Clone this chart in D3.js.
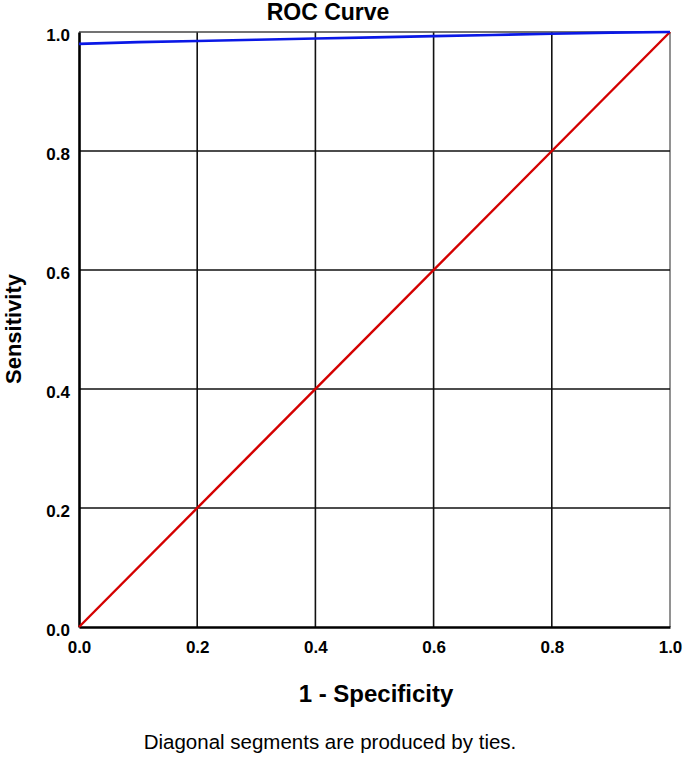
<!DOCTYPE html>
<html>
<head>
<meta charset="utf-8">
<script src="https://cdn.jsdelivr.net/npm/d3@7"></script>
<style>
    body { margin: 0; background: #fff; }
    .tick text { font-family: "Liberation Sans", Arial, sans-serif; font-weight: bold; font-size: 17px; fill: #000; }
</style>
</head>
<body>
<div id="chart"></div>
<script>
// ROC curve (blue)
var fpr = [0, 0.1, 0.2, 0.3, 0.4, 0.5, 0.6, 0.7, 0.8, 0.9, 1.0]
var tpr = [0.980, 0.983, 0.985, 0.987, 0.989, 0.991, 0.993, 0.995, 0.997, 0.999, 1.0]

// reference line
var refX = [0, 1]
var refY = [0, 1]

var ticks = [0, 0.2, 0.4, 0.6, 0.8, 1.0]

var margin = {top: 32, right: 15, bottom: 130, left: 79},
    width = 685 - margin.left - margin.right,
    height = 757 - margin.top - margin.bottom;

var font = '"Liberation Sans", Arial, sans-serif'

var xScale = d3.scaleLinear().domain([0, 1]).range([0, width])
var yScale = d3.scaleLinear().domain([0, 1]).range([height, 0])

var svg = d3.select("#chart").append("svg")
    .attr("width", 685)
    .attr("height", 757)

var g = svg.append("g")
    .attr("transform", "translate(" + margin.left + "," + margin.top + ")");

// grid
g.append("g")
    .selectAll("line.vgrid")
    .data(ticks.slice(1))
    .join("line")
    .attr("x1", d => xScale(d)).attr("x2", d => xScale(d))
    .attr("y1", 0).attr("y2", height)
    .attr("stroke", d => d == 1 ? "#777" : "#111")
    .attr("stroke-width", 1.6)

g.append("g")
    .selectAll("line.hgrid")
    .data(ticks.slice(1))
    .join("line")
    .attr("y1", d => yScale(d)).attr("y2", d => yScale(d))
    .attr("x1", 0).attr("x2", width)
    .attr("stroke", d => d == 1 ? "#444" : "#111")
    .attr("stroke-width", 1.6)

var xAxis = d3.axisBottom(xScale)
    .tickValues(ticks)
    .tickFormat(d3.format(".1f"))
    .tickSize(0)
    .tickPadding(13)

var yAxis = d3.axisLeft(yScale)
    .tickValues(ticks)
    .tickFormat(d3.format(".1f"))
    .tickSize(0)
    .tickPadding(9)

var gx = g.append("g")
    .attr("transform", "translate(0," + height + ")")
    .call(xAxis)
gx.select(".domain").attr("stroke", "#000").attr("stroke-width", 2.6)
gx.selectAll(".tick text").attr("dy", "0.75em")

var gy = g.append("g")
    .call(yAxis)
gy.select(".domain").attr("stroke", "#000").attr("stroke-width", 2.6)
gy.selectAll(".tick text").attr("dy", "0.5em")

// diagonal
const line = d3.line()
    .x(d => xScale(d[0]))
    .y(d => yScale(d[1]))

g.append("path")
    .attr("d", line(d3.zip(refX, refY)))
    .attr("stroke", "#d40000")
    .attr("stroke-width", 2.4)
    .attr("fill", "none")

g.append("path")
    .attr("d", line(d3.zip(fpr, tpr)))
    .attr("stroke", "#0a18e6")
    .attr("stroke-width", 2.6)
    .attr("fill", "none")

// titles
svg.append("text")
    .attr("x", 328).attr("y", 20)
    .attr("text-anchor", "middle")
    .style("font-family", font).style("font-weight", "bold").style("font-size", "23px")
    .text("ROC Curve")

svg.append("text")
    .attr("x", 376).attr("y", 702)
    .attr("text-anchor", "middle")
    .style("font-family", font).style("font-weight", "bold").style("font-size", "24px")
    .text("1 - Specificity")

svg.append("text")
    .attr("transform", "translate(21,329) rotate(-90)")
    .attr("text-anchor", "middle")
    .style("font-family", font).style("font-weight", "bold").style("font-size", "22px")
    .text("Sensitivity")

svg.append("text")
    .attr("x", 330).attr("y", 749)
    .attr("text-anchor", "middle")
    .style("font-family", font).style("font-size", "20.5px")
    .text("Diagonal segments are produced by ties.")
</script>
</body>
</html>
